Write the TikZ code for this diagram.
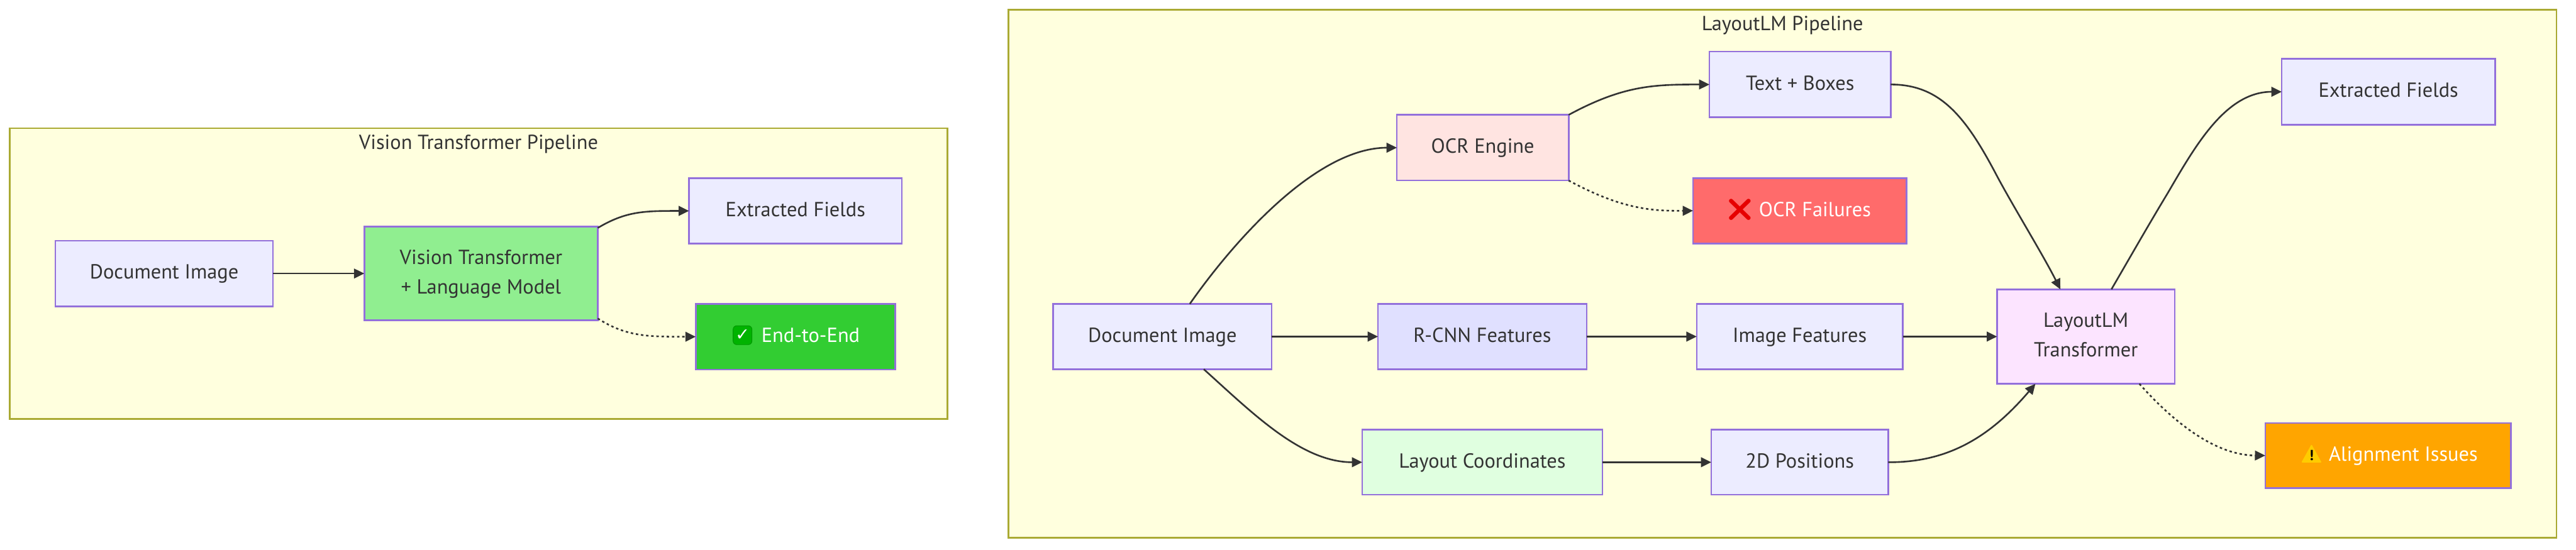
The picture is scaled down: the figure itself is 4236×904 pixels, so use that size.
\documentclass[tikz,border=0pt]{standalone}
\usepackage{fontspec}
\setmainfont{PT Sans}
\newfontfamily\emojifont{Noto Emoji}
\newfontfamily\symfont{DejaVu Sans}
\usetikzlibrary{arrows.meta}
\definecolor{nodefill}{HTML}{ECECFF}
\definecolor{nodeline}{HTML}{9370DB}
\definecolor{clusterfill}{HTML}{FFFFDE}
\definecolor{clusterline}{HTML}{AAAA33}
\definecolor{ink}{HTML}{333333}
\tikzset{
  x=1pt,y=-1pt,
  every node/.style={font=\fontsize{33.5}{48}\selectfont,text=ink,align=center,inner sep=0pt,outer sep=0pt},
  box/.style={draw=nodeline,fill=nodefill,line width=2.7pt},
  conn/.style={draw=ink,line width=2.7pt,-{Triangle[length=17pt,width=16pt]}},
  dotconn/.style={conn,dash pattern=on 4pt off 4.5pt},
}
\newcommand{\lnA}{\rule[-.28em]{0pt}{1.1em}}
\newcommand{\bx}[7][]{\node[box,#1,minimum width=#5-#4,minimum height=#7-#6] (#2) at ({(#4+#5)/2},{(#6+#7)/2}) {\lnA #3\lnA};}
\begin{document}
\begin{tikzpicture}
\useasboundingbox (0,0) rectangle (4236,904);
\fill[white] (0,0) rectangle (4236,904);
% clusters
\node[draw=clusterline,fill=clusterfill,line width=2.7pt,minimum width=1542pt,minimum height=478pt] (vitc) at (787,450) {};
\node (vitt) at (787,237) {\lnA Vision Transformer Pipeline};
\node[draw=clusterline,fill=clusterfill,line width=2.7pt,minimum width=2546pt,minimum height=869pt] (lmc) at (2931,450.5) {};
\node (lmt) at (2931,41) {\lnA LayoutLM Pipeline};
% left nodes
\bx{vdoc}{Document Image}{91}{449}{396}{504}
\bx[fill={rgb,255:red,144;green,238;blue,144}]{vit}{Vision Transformer\\+ Language Model}{599}{983}{373}{527}
\bx{vext}{Extracted Fields}{1133}{1483}{293}{401}
\bx[fill={rgb,255:red,50;green,205;blue,50},text=white]{e2e}{\hspace{50pt}End-to-End}{1144}{1472}{500}{608}
\node[fill={rgb,255:red,0;green,179;blue,0},draw={rgb,255:red,0;green,150;blue,0},line width=1pt,rounded corners=6pt,minimum width=31pt,minimum height=31pt,text=white,font=\symfont\fontsize{28}{28}\selectfont\bfseries] (checkicon) at (1221,551.5) {✓};
% right nodes
\bx{ldoc}{Document Image}{1732}{2091}{500}{607.5}
\bx[fill={rgb,255:red,255;green,228;blue,225}]{ocr}{OCR Engine}{2297}{2579.5}{189}{297}
\bx[fill={rgb,255:red,224;green,224;blue,255}]{rcnn}{R-CNN Features}{2266}{2609}{500}{607.5}
\bx[fill={rgb,255:red,224;green,255;blue,224}]{layout}{Layout Coordinates}{2240}{2635}{707}{814}
\bx{tbox}{Text + Boxes}{2811}{3109}{85}{193}
\bx[fill={rgb,255:red,255;green,107;blue,107},text=white]{fail}{\hspace{50pt}OCR Failures}{2784}{3135}{293}{400.5}
\bx{imgf}{Image Features}{2790}{3129}{500}{607.5}
\bx{pos}{2D Positions}{2814}{3105}{707}{814}
\bx[fill={rgb,255:red,252;green,228;blue,255}]{lm}{LayoutLM\\Transformer}{3284}{3576}{476}{631.5}
\bx{lext}{Extracted Fields}{3752}{4103}{97}{205}
\bx[fill={rgb,255:red,255;green,165;blue,0},text=white]{align}{\hspace{50pt}Alignment Issues}{3725}{4129}{696}{803}
\node[text={rgb,255:red,230;green,0;blue,0},font=\emojifont\fontsize{36}{36}\selectfont] (crossicon) at (2861,345.5) {❌};
\fill[fill={rgb,255:red,255;green,204;blue,0},draw={rgb,255:red,255;green,204;blue,0},line width=2pt,line join=round] (3801,733) -- (3816,760) -- (3786,760) -- cycle;
\node[text=black,font=\fontsize{24}{24}\selectfont\bfseries] (warnicon) at (3801,749) {!};
% connectors
\draw[conn] (vdoc.east) -- (vit.west);
\draw[conn] ([yshift=-2pt]vit.north east) .. controls (1030,347) and (1060,347) .. (vext.west);
\draw[dotconn] ([yshift=3pt]vit.south east) .. controls (1030,554) and (1065,554) .. (e2e.west);
\draw[conn] ([xshift=45pt]ldoc.north) .. controls (2030,395) and (2165,243) .. (ocr.west);
\draw[conn] (ldoc.east) -- (rcnn.west);
\draw[conn] ([xshift=68pt]ldoc.south) .. controls (2060,680) and (2140,760.5) .. (layout.west);
\draw[conn] (ocr.north east) .. controls (2670,140) and (2720,139) .. (tbox.west);
\draw[dotconn] (ocr.south east) .. controls (2670,346) and (2720,347) .. (fail.west);
\draw[conn] (rcnn.east) -- (imgf.west);
\draw[conn] (layout.east) -- (pos.west);
\draw[conn] (tbox.east) .. controls (3190,139) and (3232,191) .. (3283,288) .. controls (3310,339) and (3360,420) .. ([xshift=-42pt]lm.north);
\draw[conn] (imgf.east) -- (lm.west);
\draw[conn] (pos.east) .. controls (3200,761) and (3270,722) .. ([xshift=-83pt]lm.south);
\draw[conn] ([xshift=42pt]lm.north) .. controls (3500,428) and (3530,375) .. (3565,317) .. controls (3610,240) and (3660,151) .. (lext.west);
\draw[dotconn] ([xshift=88pt]lm.south) .. controls (3570,690) and (3640,749) .. (align.west);
\end{tikzpicture}
\end{document}
